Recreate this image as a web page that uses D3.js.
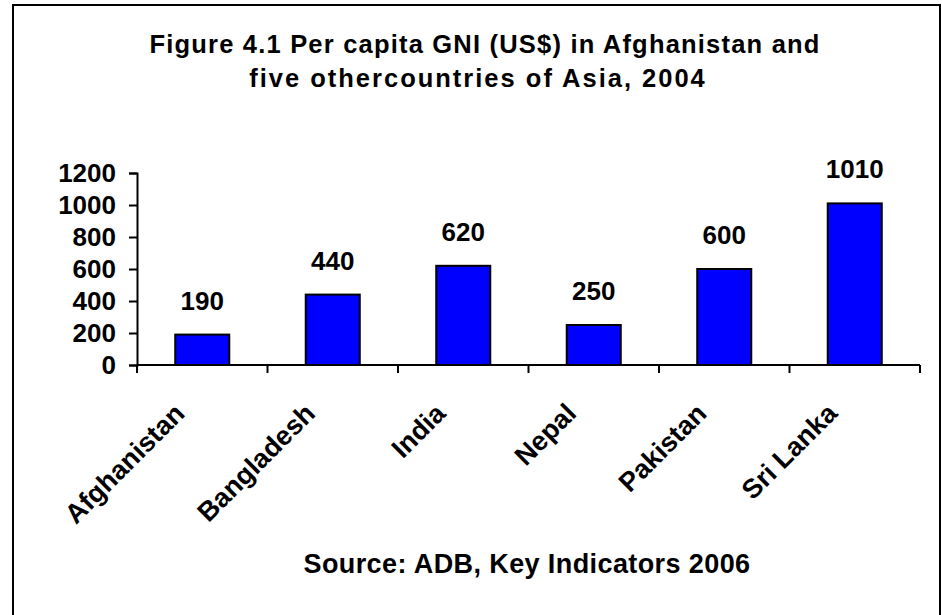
<!DOCTYPE html>
<html>
<head>
<meta charset="utf-8">
<script src="https://cdn.jsdelivr.net/npm/d3@7"></script>
<style>
  html, body { margin: 0; padding: 0; background: #fff; }
  svg { display: block; }
  text { font-family: "Liberation Sans", Arial, sans-serif; font-weight: bold; fill: #000; }
</style>
</head>
<body>
<svg id="chart" width="942" height="615"></svg>
<script>
const categories = ["Afghanistan", "Bangladesh", "India", "Nepal", "Pakistan", "Sri Lanka"];
const gniValues = [190, 440, 620, 250, 600, 1010];
const yTickValues = [0, 200, 400, 600, 800, 1000, 1200];
const titleLines = ["Figure 4.1 Per capita GNI (US$) in Afghanistan and", "five othercountries of Asia, 2004"];
const sourceText = "Source: ADB, Key Indicators 2006";

const svg = d3.select("#chart");

// outer frame
svg.append("rect")
  .attr("x", 13).attr("y", 5)
  .attr("width", 927).attr("height", 640)
  .attr("fill", "#fff").attr("stroke", "#000").attr("stroke-width", 2);

const plotLeft = 137, plotRight = 920, plotTop = 173, plotBottom = 365;

const x = d3.scaleBand()
  .domain(categories)
  .range([plotLeft, plotRight])
  .paddingInner(0.586)
  .paddingOuter(0.293);

const y = d3.scaleLinear()
  .domain([0, 1200])
  .range([plotBottom, plotTop]);

// title
svg.append("text")
  .attr("x", 485).attr("y", 53)
  .attr("text-anchor", "middle")
  .style("font-size", "25.5px")
  .style("letter-spacing", "1.2px")
  .text(titleLines[0]);
svg.append("text")
  .attr("x", 478).attr("y", 87)
  .attr("text-anchor", "middle")
  .style("font-size", "25.5px")
  .style("letter-spacing", "2px")
  .text(titleLines[1]);

// bars
svg.append("g").selectAll("rect")
  .data(categories)
  .join("rect")
  .attr("x", d => x(d))
  .attr("y", (d, i) => y(gniValues[i]))
  .attr("width", x.bandwidth())
  .attr("height", (d, i) => y(0) - y(gniValues[i]))
  .attr("fill", "#0000FF")
  .attr("stroke", "#000")
  .attr("stroke-width", 2);

// value labels
svg.append("g").selectAll("text")
  .data(categories)
  .join("text")
  .attr("x", d => x(d) + x.bandwidth() / 2)
  .attr("y", (d, i) => y(gniValues[i]) - 25)
  .attr("text-anchor", "middle")
  .style("font-size", "26px")
  .text((d, i) => gniValues[i]);

// y axis
const yAxis = svg.append("g")
  .attr("transform", `translate(${plotLeft},0)`)
  .call(d3.axisLeft(y).tickValues(yTickValues).tickSize(8).tickPadding(13).tickFormat(d3.format("d")));
yAxis.select(".domain").attr("stroke", "#000").attr("stroke-width", 2);
yAxis.selectAll(".tick line").attr("stroke", "#000").attr("stroke-width", 2);
yAxis.selectAll(".tick text")
  .style("font-family", '"Liberation Sans", Arial, sans-serif')
  .style("font-weight", "bold")
  .style("font-size", "26px")
  .attr("fill", "#000");

// x axis line
const step = x.step();
const edges = d3.range(categories.length + 1).map(i => plotLeft + i * step);
svg.append("line")
  .attr("x1", plotLeft).attr("x2", plotRight)
  .attr("y1", plotBottom).attr("y2", plotBottom)
  .attr("stroke", "#000").attr("stroke-width", 2);
svg.append("g").selectAll("line")
  .data(edges)
  .join("line")
  .attr("x1", d => d).attr("x2", d => d)
  .attr("y1", plotBottom).attr("y2", plotBottom + 8)
  .attr("stroke", "#000").attr("stroke-width", 2);

// category labels rotated
svg.append("g").selectAll("text")
  .data(categories)
  .join("text")
  .attr("transform", d => `translate(${x(d) + x.bandwidth() / 2 - 16},${plotBottom + 50}) rotate(-45)`)
  .attr("text-anchor", "end")
  .style("font-size", "27px")
  .text(d => d);

// source
svg.append("text")
  .attr("x", 527).attr("y", 573)
  .attr("text-anchor", "middle")
  .style("font-size", "27px")
  .style("letter-spacing", "0.4px")
  .text(sourceText);
</script>
</body>
</html>
